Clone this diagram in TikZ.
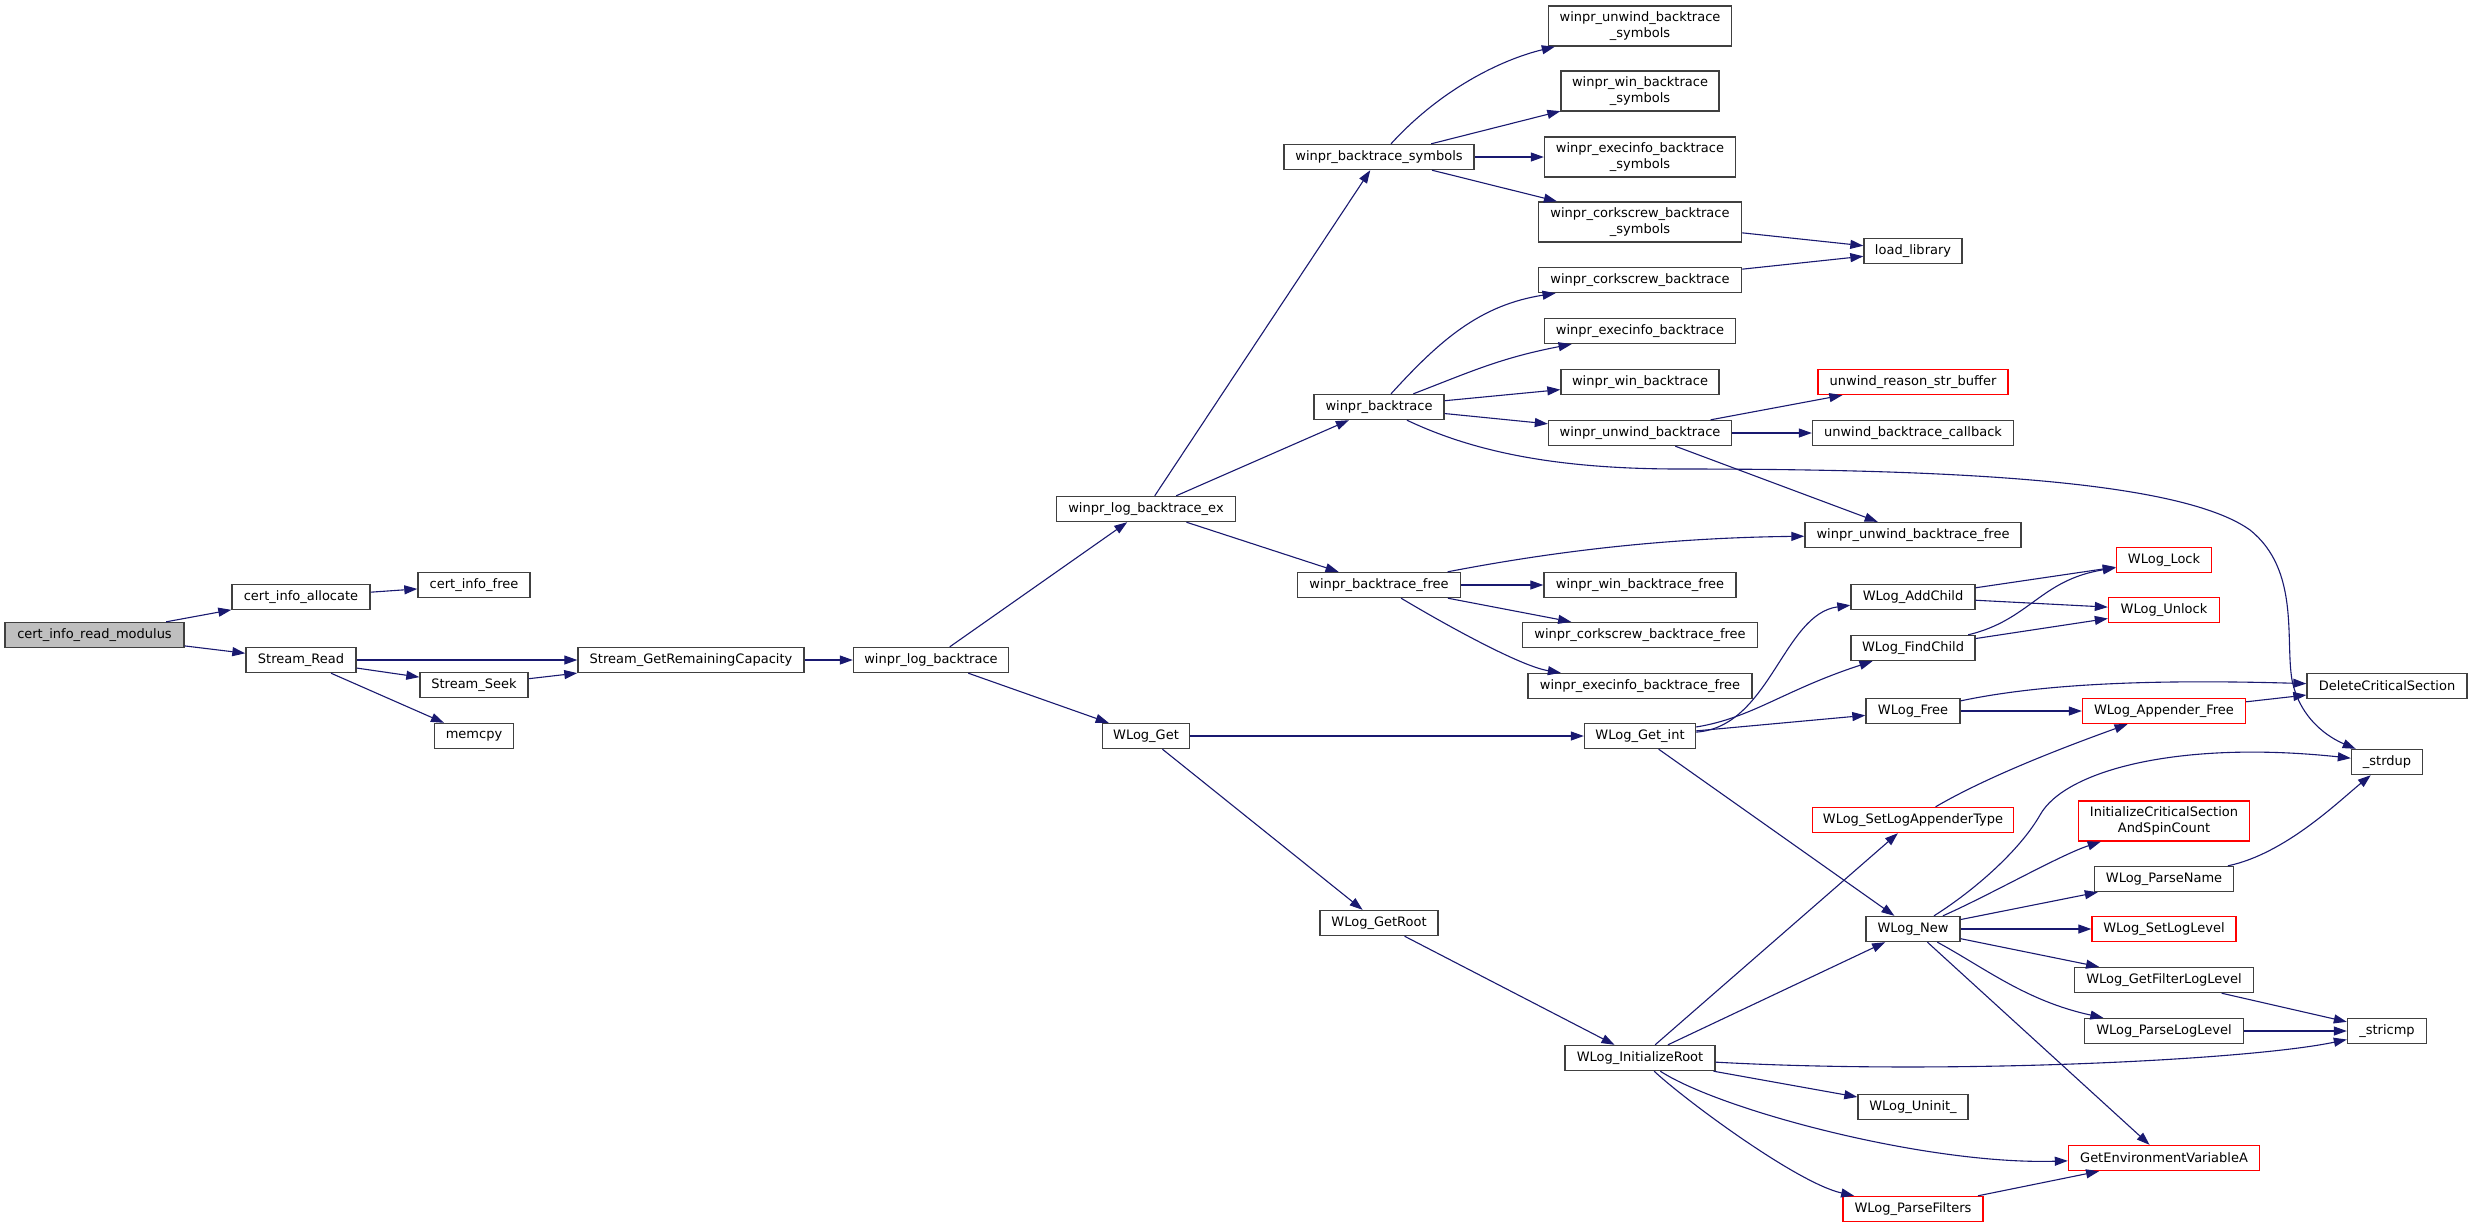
\documentclass[tikz,border=0pt]{standalone}
\usepackage{fontspec}
\setmainfont{DejaVu Sans}
\usetikzlibrary{arrows.meta}
\definecolor{edgec}{HTML}{191970}
\definecolor{boxc}{HTML}{404040}
\tikzset{
  box/.style={draw=boxc, line width=1.4pt, fill=white, minimum height=25pt,
    inner xsep=2pt, inner ysep=0pt, text=black, font=\fontsize{13}{15.3}\selectfont, align=center},
  redbox/.style={box, draw=red},
  rootbox/.style={box, fill=black!25},
  tall/.style={minimum height=40pt},
  edge/.style={draw=edgec, line width=1.1pt, -{Triangle[length=13pt,width=9pt]}},
}
\begin{document}
\begin{tikzpicture}[x=1pt,y=-1pt]
\fill[white] (0,0) rectangle (2472,1227);
\useasboundingbox (0,0) rectangle (2472,1227);
% column 1-3
\node[rootbox, minimum width=179pt] (root) at (94.5,635) {cert\_info\_read\_modulus};
\node[box, minimum width=138pt] (alloc) at (301,597) {cert\_info\_allocate};
\node[box, minimum width=112pt] (cfree) at (474,585) {cert\_info\_free};
\node[box, minimum width=110pt] (sread) at (301,660) {Stream\_Read};
\node[box, minimum width=108pt] (sseek) at (474,685) {Stream\_Seek};
\node[box, minimum width=79pt] (memcpy) at (474,736) {memcpy};
\node[box, minimum width=226pt] (sgrc) at (691,660) {Stream\_GetRemainingCapacity};
\node[box, minimum width=155pt] (wlb) at (931,660) {winpr\_log\_backtrace};
\node[box, minimum width=179pt] (wlbex) at (1146,509) {winpr\_log\_backtrace\_ex};
\node[box, minimum width=87pt] (wget) at (1146,736) {WLog\_Get};
\node[box, minimum width=190pt] (wbs) at (1379,157) {winpr\_backtrace\_symbols};
\node[box, minimum width=130pt] (wb) at (1379,407) {winpr\_backtrace};
\node[box, minimum width=163pt] (wbf) at (1379,585) {winpr\_backtrace\_free};
\node[box, minimum width=118pt] (getroot) at (1379,923) {WLog\_GetRoot};
% column 1640
\node[box, tall, minimum width=183pt] (uws) at (1640,26) {winpr\_unwind\_backtrace\\\_symbols};
\node[box, tall, minimum width=158pt] (wws) at (1640,91) {winpr\_win\_backtrace\\\_symbols};
\node[box, tall, minimum width=191pt] (ews) at (1640,157) {winpr\_execinfo\_backtrace\\\_symbols};
\node[box, tall, minimum width=203pt] (cws) at (1640,222) {winpr\_corkscrew\_backtrace\\\_symbols};
\node[box, minimum width=203pt] (cw) at (1640,280) {winpr\_corkscrew\_backtrace};
\node[box, minimum width=191pt] (ew) at (1640,331) {winpr\_execinfo\_backtrace};
\node[box, minimum width=158pt] (ww) at (1640,382) {winpr\_win\_backtrace};
\node[box, minimum width=183pt] (uw) at (1640,433) {winpr\_unwind\_backtrace};
\node[box, minimum width=192pt] (wwf) at (1640,585) {winpr\_win\_backtrace\_free};
\node[box, minimum width=235pt] (cwf) at (1640,635) {winpr\_corkscrew\_backtrace\_free};
\node[box, minimum width=224pt] (ewf) at (1640,686) {winpr\_execinfo\_backtrace\_free};
\node[box, minimum width=111pt] (getint) at (1640,736) {WLog\_Get\_int};
\node[box, minimum width=150pt] (initroot) at (1640,1058) {WLog\_InitializeRoot};
% column 1913
\node[box, minimum width=98pt] (loadlib) at (1913,251) {load\_library};
\node[redbox, minimum width=190pt] (urs) at (1913,382) {unwind\_reason\_str\_buffer};
\node[box, minimum width=201pt] (ucb) at (1913,433) {unwind\_backtrace\_callback};
\node[box, minimum width=216pt] (uwf) at (1913,535) {winpr\_unwind\_backtrace\_free};
\node[box, minimum width=124pt] (addchild) at (1913,597) {WLog\_AddChild};
\node[box, minimum width=124pt] (findchild) at (1913,648) {WLog\_FindChild};
\node[box, minimum width=94pt] (wfree) at (1913,711) {WLog\_Free};
\node[redbox, minimum width=201pt] (slat) at (1913,820) {WLog\_SetLogAppenderType};
\node[box, minimum width=94pt] (wnew) at (1913,929) {WLog\_New};
\node[box, minimum width=110pt] (uninit) at (1913,1107) {WLog\_Uninit\_};
\node[redbox, minimum width=140pt] (pfilters) at (1913,1209) {WLog\_ParseFilters};
% column 2164
\node[redbox, minimum width=95pt] (lock) at (2164,560) {WLog\_Lock};
\node[redbox, minimum width=111pt] (unlock) at (2164,610) {WLog\_Unlock};
\node[redbox, minimum width=163pt] (appfree) at (2164,711) {WLog\_Appender\_Free};
\node[redbox, tall, minimum width=171pt] (initcs) at (2164,821) {InitializeCriticalSection\\AndSpinCount};
\node[box, minimum width=139pt] (parsename) at (2164,879) {WLog\_ParseName};
\node[redbox, minimum width=144pt] (setll) at (2164,929) {WLog\_SetLogLevel};
\node[box, minimum width=179pt] (gfll) at (2164,980) {WLog\_GetFilterLogLevel};
\node[box, minimum width=159pt] (pll) at (2164,1031) {WLog\_ParseLogLevel};
\node[redbox, minimum width=191pt] (geva) at (2164,1158) {GetEnvironmentVariableA};
% column 2387
\node[box, minimum width=160pt] (dcs) at (2387,686) {DeleteCriticalSection};
\node[box, minimum width=71pt] (strdup) at (2387,762) {\_strdup};
\node[box, minimum width=79pt] (stricmp) at (2387,1031) {\_stricmp};
% edges
\draw[edge] (root) -- (alloc);
\draw[edge] (root) -- (sread);
\draw[edge] (alloc) -- (cfree);
\draw[edge] (sread) -- (sgrc);
\draw[edge] (sread) -- (sseek);
\draw[edge] (sread) -- (memcpy);
\draw[edge] (sseek) -- (sgrc);
\draw[edge] (sgrc) -- (wlb);
\draw[edge] (wlb) -- (wlbex);
\draw[edge] (wlb) -- (wget);
\draw[edge] (wlbex) -- (wbs);
\draw[edge] (wlbex) -- (wb);
\draw[edge] (wlbex) -- (wbf);
\draw[edge] (wbs) .. controls (1440,90) and (1500,60) .. (uws);
\draw[edge] (wbs) -- (wws);
\draw[edge] (wbs) -- (ews);
\draw[edge] (wbs) -- (cws);
\draw[edge] (cws) -- (loadlib);
\draw[edge] (cw) -- (loadlib);
\draw[edge] (wb) .. controls (1440,340) and (1480,305) .. (cw);
\draw[edge] (wb) .. controls (1470,372) and (1500,358) .. (ew);
\draw[edge] (wb) -- (ww);
\draw[edge] (wb) -- (uw);
\draw[edge] (wb) .. controls (1470,450) and (1550,469) .. (1680,469)
   .. controls (1950,469) and (2180,480) .. (2250,530)
   .. controls (2300,570) and (2285,640) .. (2292,680)
   .. controls (2300,720) and (2330,738) .. (strdup);
\draw[edge] (uw) -- (urs);
\draw[edge] (uw) -- (ucb);
\draw[edge] (uw) -- (uwf);
\draw[edge] (wbf) .. controls (1535,555) and (1650,538) .. (uwf);
\draw[edge] (wbf) -- (wwf);
\draw[edge] (wbf) -- (cwf);
\draw[edge] (wbf) .. controls (1446,625) and (1520,666) .. (ewf);
\draw[edge] (wget) -- (getint);
\draw[edge] (wget) -- (getroot);
\draw[edge] (getint) .. controls (1770,727) and (1783,614) .. (addchild);
\draw[edge] (getint) .. controls (1752,718) and (1784,690) .. (findchild);
\draw[edge] (getint) -- (wfree);
\draw[edge] (getint) -- (wnew);
\draw[edge] (addchild) -- (lock);
\draw[edge] (addchild) -- (unlock);
\draw[edge] (findchild) .. controls (2030,620) and (2040,580) .. (lock);
\draw[edge] (findchild) -- (unlock);
\draw[edge] (wfree) .. controls (2040,684) and (2150,679) .. (dcs);
\draw[edge] (wfree) -- (appfree);
\draw[edge] (appfree) -- (dcs);
\draw[edge] (slat) .. controls (1990,775) and (2070,745) .. (appfree);
\draw[edge] (wnew) .. controls (1975,890) and (2020,850) .. (2040,815)
   .. controls (2065,770) and (2180,740) .. (strdup);
\draw[edge] (wnew) .. controls (1990,895) and (2060,855) .. (initcs);
\draw[edge] (wnew) -- (parsename);
\draw[edge] (wnew) -- (setll);
\draw[edge] (wnew) -- (gfll);
\draw[edge] (wnew) .. controls (1985,968) and (2026,1001) .. (pll);
\draw[edge] (wnew) -- (geva);
\draw[edge] (parsename) .. controls (2285,854) and (2339,801) .. (strdup);
\draw[edge] (gfll) -- (stricmp);
\draw[edge] (pll) -- (stricmp);
\draw[edge] (getroot) -- (initroot);
\draw[edge] (initroot) -- (slat);
\draw[edge] (initroot) -- (wnew);
\draw[edge] (initroot) .. controls (1950,1075) and (2250,1060) .. (stricmp);
\draw[edge] (initroot) -- (uninit);
\draw[edge] (initroot) .. controls (1720,1110) and (1926,1165) .. (geva);
\draw[edge] (initroot) .. controls (1685,1100) and (1797,1183) .. (pfilters);
\draw[edge] (pfilters) -- (geva);
\end{tikzpicture}
\end{document}
